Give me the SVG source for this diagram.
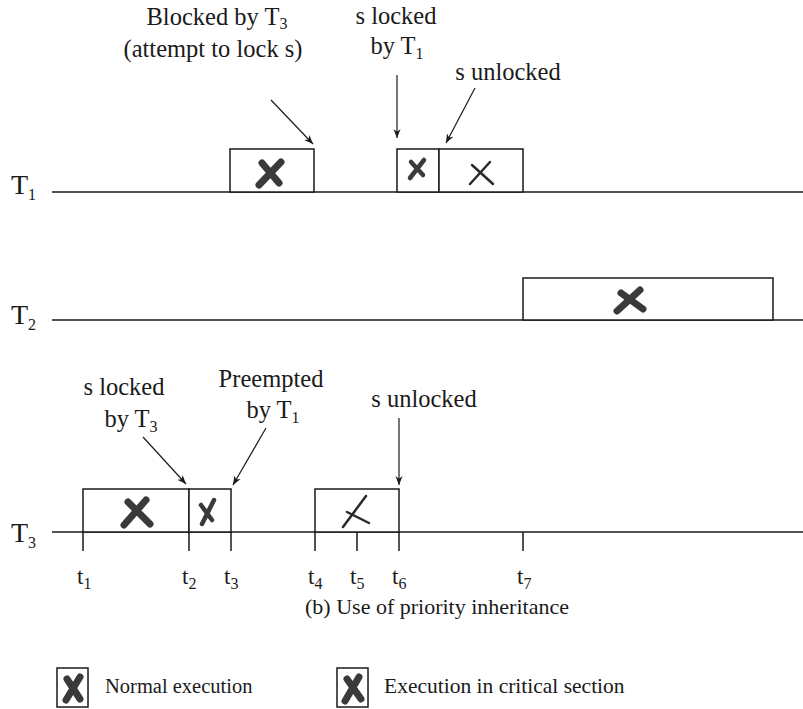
<svg xmlns="http://www.w3.org/2000/svg" width="803" height="709" viewBox="0 0 803 709" font-family="Liberation Serif, DejaVu Serif, serif">
<style>
text{font-family:'Liberation Serif','DejaVu Serif',serif;fill:#1a1a1a}
.a{font-size:24.5px}
.t{font-size:23px}
.c{font-size:22px}
.tl{font-size:28px}
.sub{font-size:16px}
.box{fill:#fff;stroke:#1a1a1a;stroke-width:1.5}
.line{stroke:#1a1a1a;stroke-width:1.5;fill:none}
.arr{stroke:#1a1a1a;stroke-width:1.2;fill:none;marker-end:url(#ah)}
.xn{stroke:#3a3a3a;stroke-width:7;stroke-linecap:round;fill:none}
.xm{stroke:#3a3a3a;stroke-width:4.5;stroke-linecap:round;fill:none}
.xc{stroke:#2a2a2a;stroke-width:2.5;stroke-linecap:round;fill:none}
</style>
<defs>
<marker id="ah" viewBox="0 0 10 10" refX="10" refY="5" markerWidth="9" markerHeight="9" markerUnits="userSpaceOnUse" orient="auto">
<path d="M0,1 L10,5 L0,9 L3,5 Z" fill="#1a1a1a"/>
</marker>
</defs>

<g id="timelines">
<line class="line" x1="52" y1="192" x2="803" y2="192"/>
<line class="line" x1="52" y1="320" x2="803" y2="320"/>
<line class="line" x1="52" y1="532" x2="803" y2="532"/>
<text class="tl" x="11" y="194">T<tspan class="sub" font-size="18" dy="6">1</tspan></text>
<text class="tl" x="11" y="324">T<tspan class="sub" font-size="18" dy="6">2</tspan></text>
<text class="tl" x="11" y="542">T<tspan class="sub" font-size="18" dy="6">3</tspan></text>
</g>

<g id="t1-boxes">
<rect class="box" x="230" y="149" width="84" height="43"/>
<path class="xn" d="M259,185 L281,162 M262,163 L279,183"/>
<rect class="box" x="397" y="149" width="42" height="43"/>
<path class="xm" d="M410,178 L424,160 M411,162 L423,175"/>
<rect class="box" x="439" y="149" width="84" height="43"/>
<path class="xc" d="M470,184 L490,162 M472,165 L493,184"/>
</g>

<g id="t2-box">
<rect class="box" x="523" y="278" width="250" height="42"/>
<path class="xn" d="M617,311 L640,290 M621,293 L643,309"/>
</g>

<g id="t3-boxes">
<rect class="box" x="83" y="489" width="106" height="43"/>
<path class="xn" d="M124,525 L146,500 M128,502 L150,524"/>
<rect class="box" x="189" y="489" width="42" height="43"/>
<path class="xm" d="M202,524 L214,500 M201,505 L212,520"/>
<rect class="box" x="315" y="489" width="84" height="43"/>
<path class="xc" d="M343,527 L366,496 M347,512 L369,523"/>
</g>

<g id="ticks">
<path class="line" d="M83,532 V551 M189,532 V551 M231,532 V551 M315,532 V551 M357,532 V551 M399,532 V551 M523,532 V551"/>
<text class="t" x="77" y="584">t<tspan class="sub" dy="5">1</tspan></text>
<text class="t" x="182" y="584">t<tspan class="sub" dy="5">2</tspan></text>
<text class="t" x="224" y="584">t<tspan class="sub" dy="5">3</tspan></text>
<text class="t" x="308" y="584">t<tspan class="sub" dy="5">4</tspan></text>
<text class="t" x="350" y="584">t<tspan class="sub" dy="5">5</tspan></text>
<text class="t" x="392" y="584">t<tspan class="sub" dy="5">6</tspan></text>
<text class="t" x="517" y="584">t<tspan class="sub" dy="5">7</tspan></text>
</g>

<g id="annotations">
<text class="a" x="217" y="25" text-anchor="middle">Blocked by T<tspan class="sub" dy="4">3</tspan></text>
<text class="a" x="213" y="57" text-anchor="middle">(attempt to lock s)</text>
<text class="a" x="396" y="24" text-anchor="middle">s locked</text>
<text class="a" x="397" y="54" text-anchor="middle">by T<tspan class="sub" dy="5">1</tspan></text>
<text class="a" x="508" y="80" text-anchor="middle">s unlocked</text>
<text class="a" x="124" y="395" text-anchor="middle">s locked</text>
<text class="a" x="131" y="427" text-anchor="middle">by T<tspan class="sub" dy="5">3</tspan></text>
<text class="a" x="271" y="387" text-anchor="middle">Preempted</text>
<text class="a" x="273" y="418" text-anchor="middle">by T<tspan class="sub" dy="5">1</tspan></text>
<text class="a" x="424" y="407" text-anchor="middle">s unlocked</text>
</g>

<g id="connectors">
<line class="arr" x1="271" y1="100" x2="313" y2="144"/>
<line class="arr" x1="397" y1="75" x2="397" y2="138"/>
<line class="arr" x1="475" y1="88" x2="446" y2="143"/>
<line class="arr" x1="143" y1="437" x2="186" y2="484"/>
<line class="arr" x1="266" y1="428" x2="233" y2="485"/>
<line class="arr" x1="399" y1="418" x2="399" y2="485"/>
</g>

<g id="caption">
<text class="c" x="437" y="614" text-anchor="middle">(b) Use of priority inheritance</text>
</g>

<g id="legend-normal">
<rect class="box" x="57" y="668" width="31" height="39"/>
<path class="xn" d="M66,700 L80,677 M67,679 L80,699"/>
<text x="105" y="693" font-size="20.5">Normal execution</text>
</g>
<g id="legend-critical">
<rect class="box" x="337" y="668" width="31" height="39"/>
<path class="xn" d="M345,701 L359,677 M347,679 L361,699"/>
<text x="384" y="693" font-size="21.5">Execution in critical section</text>
</g>
</svg>
